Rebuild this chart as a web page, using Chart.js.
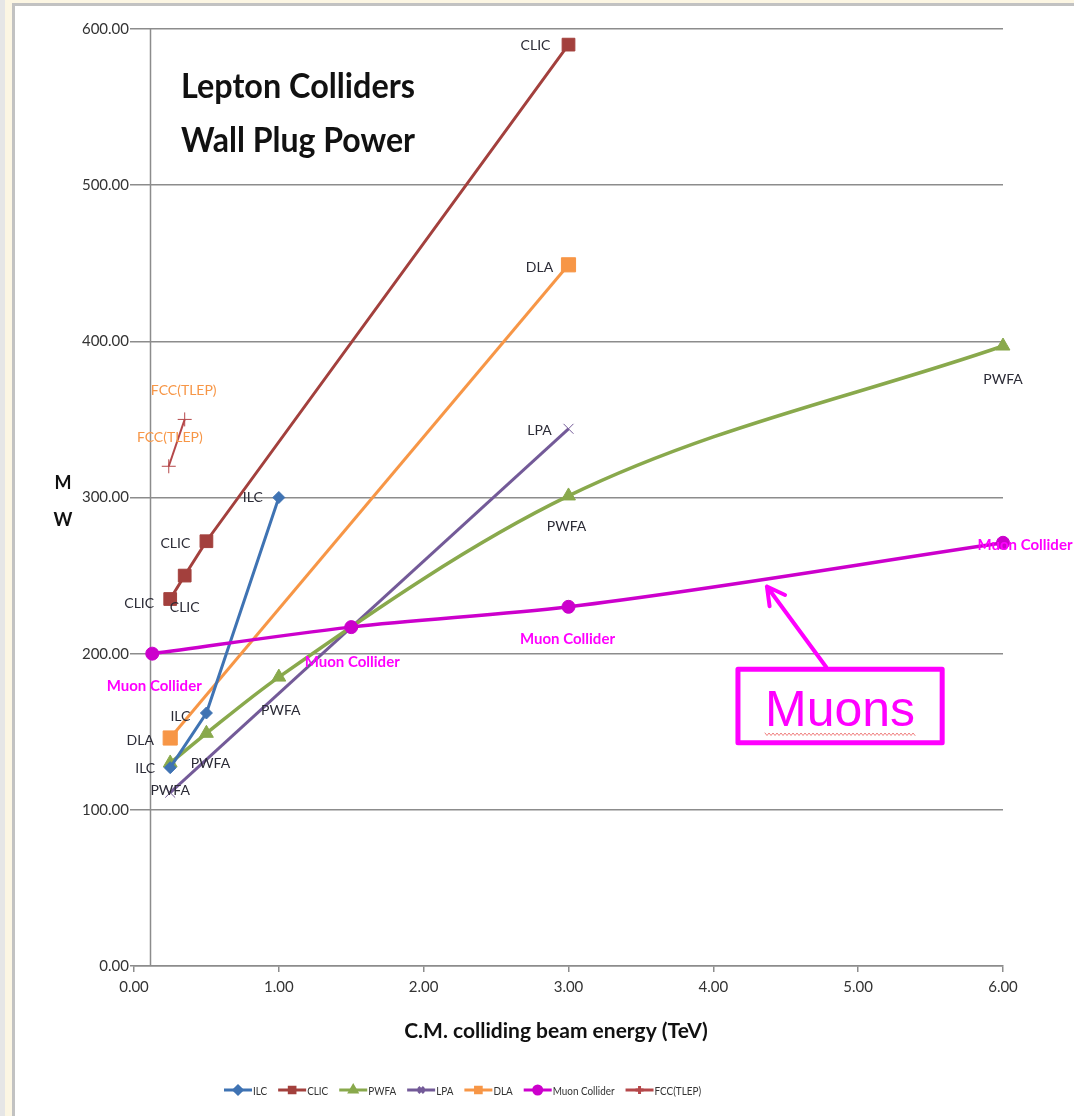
<!DOCTYPE html>
<html>
<head>
<meta charset="utf-8">
<script src="https://cdn.jsdelivr.net/npm/chart.js@4.4.1/dist/chart.umd.min.js"></script>
<style>
  html, body { margin: 0; padding: 0; background: #fff; }
  canvas { display: block; }
</style>
</head>
<body>
<canvas id="chart" width="1074" height="1116"></canvas>
<script>
// ── Data ─────────────────────────────────────────────────────────────────────
const ILC_X = [0.25, 0.5, 1.0];
const ILC_Y = [127, 162, 300];
const ILC_LABELS = ['ILC', 'ILC', 'ILC'];

const CLIC_X = [0.25, 0.35, 0.5, 3.0];
const CLIC_Y = [235, 250, 272, 590];
const CLIC_LABELS = ['CLIC', 'CLIC', 'CLIC', 'CLIC'];

const PWFA_X = [0.25, 0.5, 1.0, 3.0, 6.0];
const PWFA_Y = [130, 149, 185, 301, 397];
const PWFA_LABELS = ['PWFA', 'PWFA', 'PWFA', 'PWFA', 'PWFA'];

const LPA_X = [0.25, 3.0];
const LPA_Y = [111, 344];
const LPA_LABELS = ['', 'LPA'];

const DLA_X = [0.25, 3.0];
const DLA_Y = [146, 449];
const DLA_LABELS = ['DLA', 'DLA'];

const MUON_X = [0.126, 1.5, 3.0, 6.0];
const MUON_Y = [200, 217, 230, 271];
const MUON_LABELS = ['Muon Collider', 'Muon Collider', 'Muon Collider', 'Muon Collider'];

const FCC_X = [0.24, 0.35];
const FCC_Y = [320, 350];
const FCC_LABELS = ['FCC(TLEP)', 'FCC(TLEP)'];

const X_TICKS = [0, 1, 2, 3, 4, 5, 6];
const Y_TICKS = [0, 100, 200, 300, 400, 500, 600];

const TITLE_LINES = ['Lepton Colliders', 'Wall Plug Power'];
const X_TITLE = 'C.M. colliding beam energy (TeV)';
const Y_TITLE = ['M', 'W'];
const CALLOUT = 'Muons';

const pts = (xs, ys) => xs.map((x, i) => ({ x, y: ys[i] }));

// label offsets (px, from point centre to label centre)
const OFF = {
    ilc: [[-25, 1], [-26, 3], [-26, 0]],
    clic: [[-31, 4], [0, 32], [-31, 2], [-33, 1]],
    pwfa: [[0, 28], [4, 30], [2, 33], [-2, 31], [0, 33]],
    lpa: [[0, 0], [-29, 2]],
    dla: [[-30, 2], [-29, 3]],
    muon: [[2, 32], [1, 35], [-1, 32], [22, 2]],
    fcc: [[1, -29], [-1, -29]],
};

const FONT = 'Lato, "Open Sans", sans-serif';
const DARK = '#2b2b36';

const datasets = [
    { label: 'ILC', data: pts(ILC_X, ILC_Y), labels: ILC_LABELS, offs: OFF.ilc, labelColor: DARK, labelBold: false,
      borderColor: '#3f73b3', backgroundColor: '#3f73b3', pointStyle: 'rectRot', pointRadius: 6, borderWidth: 3, order: 2 },
    { label: 'CLIC', data: pts(CLIC_X, CLIC_Y), labels: CLIC_LABELS, offs: OFF.clic, labelColor: DARK, labelBold: false,
      borderColor: '#a3403d', backgroundColor: '#a3403d', pointStyle: 'rect', pointRadius: 9, borderWidth: 3, order: 2 },
    { label: 'PWFA', data: pts(PWFA_X, PWFA_Y), labels: PWFA_LABELS, offs: OFF.pwfa, labelColor: DARK, labelBold: false,
      borderColor: '#89a94c', backgroundColor: '#89a94c', pointStyle: 'triangle', pointRadius: 8, borderWidth: 3.5,
      cubicInterpolationMode: 'monotone', order: 2 },
    { label: 'LPA', data: pts(LPA_X, LPA_Y), labels: LPA_LABELS, offs: OFF.lpa, labelColor: DARK, labelBold: false,
      borderColor: '#735a98', backgroundColor: '#735a98', pointStyle: 'crossRot', pointRadius: 7, borderWidth: 3, order: 2 },
    { label: 'DLA', data: pts(DLA_X, DLA_Y), labels: DLA_LABELS, offs: OFF.dla, labelColor: DARK, labelBold: false,
      borderColor: '#f79646', backgroundColor: '#f79646', pointStyle: 'rect', pointRadius: 10, borderWidth: 3, order: 2 },
    { label: 'Muon Collider', data: pts(MUON_X, MUON_Y), labels: MUON_LABELS, offs: OFF.muon, labelColor: '#ff00ff', labelBold: true,
      borderColor: '#cc00cc', backgroundColor: '#cc00cc', pointStyle: 'circle', pointRadius: 6.5, borderWidth: 3.5,
      cubicInterpolationMode: 'monotone', order: 1 },
    { label: 'FCC(TLEP)', data: pts(FCC_X, FCC_Y), labels: FCC_LABELS, offs: OFF.fcc, labelColor: '#f79646', labelBold: false,
      borderColor: '#b5484a', backgroundColor: '#b5484a', pointStyle: 'cross', pointRadius: 7, borderWidth: 2, order: 2 },
];

// ── Plugins ──────────────────────────────────────────────────────────────────

// Slide frame + white background.
const framePlugin = {
    id: 'frame',
    beforeDraw(chart) {
        const { ctx, width, height } = chart;
        ctx.save();
        ctx.fillStyle = '#fff';
        ctx.fillRect(0, 0, width, height);
        ctx.fillStyle = '#e6e6e6';
        ctx.fillRect(0, 0, 5, height);
        ctx.fillStyle = '#fcf6e3';
        ctx.fillRect(5, 0, 7, height);
        ctx.fillRect(12, 0, width, 3);
        ctx.fillStyle = '#c2c2c2';
        ctx.fillRect(12, 4, 3, height);
        ctx.fillRect(12, 3, width, 3);
        ctx.restore();
    },
};

// Vertical axis crosses the horizontal one at x = 0.11.
const yAxisLine = {
    id: 'yAxisLine',
    beforeDatasetsDraw(chart) {
        const { ctx, scales: { x, y } } = chart;
        const px = Math.round(x.getPixelForValue(0.11)) + 0.5;
        ctx.save();
        ctx.strokeStyle = '#8c8c8c';
        ctx.lineWidth = 1.5;
        ctx.beginPath();
        ctx.moveTo(px, y.getPixelForValue(600));
        ctx.lineTo(px, y.getPixelForValue(0));
        ctx.stroke();
        ctx.restore();
    },
};

// Data labels next to the markers.
const pointLabels = {
    id: 'pointLabels',
    afterDatasetsDraw(chart) {
        const { ctx } = chart;
        ctx.save();
        ctx.textAlign = 'center';
        ctx.textBaseline = 'middle';
        chart.data.datasets.forEach((ds, di) => {
            const meta = chart.getDatasetMeta(di);
            ctx.fillStyle = ds.labelColor;
            ctx.font = ds.labelBold ? `bold 15px ${FONT}` : `14px ${FONT}`;
            meta.data.forEach((el, i) => {
                const t = ds.labels[i];
                if (!t) return;
                const [dx, dy] = ds.offs[i];
                ctx.fillText(t, el.x + dx, el.y + dy);
            });
        });
        ctx.restore();
    },
};

// Titles, axis titles, legend and the "Muons" callout.
const decorations = {
    id: 'decorations',
    afterDraw(chart) {
        const { ctx, scales: { x, y } } = chart;
        ctx.save();

        // title
        ctx.fillStyle = '#111';
        ctx.font = `bold 35px ${FONT}`;
        ctx.textAlign = 'left';
        ctx.textBaseline = 'alphabetic';
        ctx.fillText(TITLE_LINES[0], 181, 98, 234);
        ctx.fillText(TITLE_LINES[1], 181, 152, 234);

        // axis titles
        ctx.font = `bold 18px ${FONT}`;
        ctx.textAlign = 'center';
        ctx.textBaseline = 'middle';
        ctx.fillText(Y_TITLE[0], 63, 483);
        ctx.fillText(Y_TITLE[1], 63, 520);
        ctx.font = `bold 21px ${FONT}`;
        ctx.fillText(X_TITLE, 556, 1031, 312);

        // legend
        ctx.font = `11px ${FONT}`;
        ctx.textAlign = 'left';
        let lx = 224;
        const ly = 1090;
        chart.data.datasets.forEach(ds => {
            ctx.strokeStyle = ds.borderColor;
            ctx.lineWidth = 3;
            ctx.beginPath();
            ctx.moveTo(lx, ly);
            ctx.lineTo(lx + 28, ly);
            ctx.stroke();
            ctx.fillStyle = ds.backgroundColor;
            Chart.helpers.drawPoint(ctx, {
                pointStyle: ds.pointStyle,
                radius: 4,
                borderWidth: 1.5,
            }, lx + 14, ly);
            ctx.fillStyle = '#333';
            const tw = ctx.measureText(ds.label).width * 0.9;
            ctx.fillText(ds.label, lx + 29, ly + 1, tw);
            lx += 29 + tw + 11;
        });

        // Muons callout box + arrow
        const mag = '#ff00ff';
        const bx0 = x.getPixelForValue(4.17), bx1 = x.getPixelForValue(5.58);
        const by0 = y.getPixelForValue(190), by1 = y.getPixelForValue(143);
        ctx.strokeStyle = mag;
        ctx.lineWidth = 5;
        ctx.lineJoin = 'round';
        ctx.strokeRect(bx0, by0, bx1 - bx0, by1 - by0);

        const tx = x.getPixelForValue(4.78), ty = by0 - 2;
        const hx = x.getPixelForValue(4.37), hy = y.getPixelForValue(243);
        ctx.lineWidth = 4;
        ctx.lineCap = 'round';
        ctx.beginPath();
        ctx.moveTo(tx, ty);
        ctx.lineTo(hx, hy);
        const ang = Math.atan2(hy - ty, hx - tx);
        ctx.moveTo(hx + 20 * Math.cos(ang + Math.PI - 0.5), hy + 20 * Math.sin(ang + Math.PI - 0.5));
        ctx.lineTo(hx, hy);
        ctx.lineTo(hx + 20 * Math.cos(ang + Math.PI + 0.5), hy + 20 * Math.sin(ang + Math.PI + 0.5));
        ctx.stroke();

        ctx.fillStyle = mag;
        ctx.font = '50px "Liberation Sans", Arial, sans-serif';
        ctx.textAlign = 'center';
        ctx.textBaseline = 'alphabetic';
        const cx = (bx0 + bx1) / 2;
        ctx.fillText(CALLOUT, cx, 726, 158);

        // spell-check squiggle under the word
        const w = Math.min(ctx.measureText(CALLOUT).width, 158);
        ctx.strokeStyle = '#f08080';
        ctx.lineWidth = 1;
        ctx.beginPath();
        for (let i = 0, px = cx - w / 2; px <= cx + w / 2; i++, px += 2) {
            const py = 734 + (i % 2 ? 1.5 : -1);
            if (i === 0) ctx.moveTo(px, py); else ctx.lineTo(px, py);
        }
        ctx.stroke();

        ctx.restore();
    },
};

// ── Chart ────────────────────────────────────────────────────────────────────
new Chart(document.getElementById('chart'), {
    type: 'scatter',
    data: { datasets: datasets.map(d => ({ ...d, showLine: true, fill: false, pointBorderWidth: 1, clip: false })) },
    options: {
        responsive: false,
        animation: false,
        devicePixelRatio: 1,
        layout: { padding: { left: 14, right: 71, top: 29, bottom: 110 } },
        scales: {
            x: {
                type: 'linear',
                min: X_TICKS[0],
                max: X_TICKS[X_TICKS.length - 1],
                afterBuildTicks: s => { s.ticks = X_TICKS.map(v => ({ value: v })); },
                afterFit: s => { s.height = 40; },
                ticks: { callback: v => v.toFixed(2), color: '#333', font: { family: FONT, size: 15 }, padding: 6, maxRotation: 0 },
                grid: { display: true, drawOnChartArea: false, drawTicks: true, tickLength: 6, color: '#8c8c8c', lineWidth: 1.5 },
                border: { display: true, color: '#8c8c8c', width: 1.5 },
            },
            y: {
                type: 'linear',
                min: Y_TICKS[0],
                max: Y_TICKS[Y_TICKS.length - 1],
                afterBuildTicks: s => { s.ticks = Y_TICKS.map(v => ({ value: v })); },
                afterFit: s => { s.width = 120; },
                ticks: { callback: v => v.toFixed(2), color: '#333', font: { family: FONT, size: 15 }, padding: 1 },
                grid: { color: '#8c8c8c', lineWidth: 1.5, tickLength: 4 },
                border: { display: false },
            },
        },
        plugins: { legend: { display: false }, tooltip: { enabled: false } },
    },
    plugins: [framePlugin, yAxisLine, pointLabels, decorations],
});
</script>
</body>
</html>
